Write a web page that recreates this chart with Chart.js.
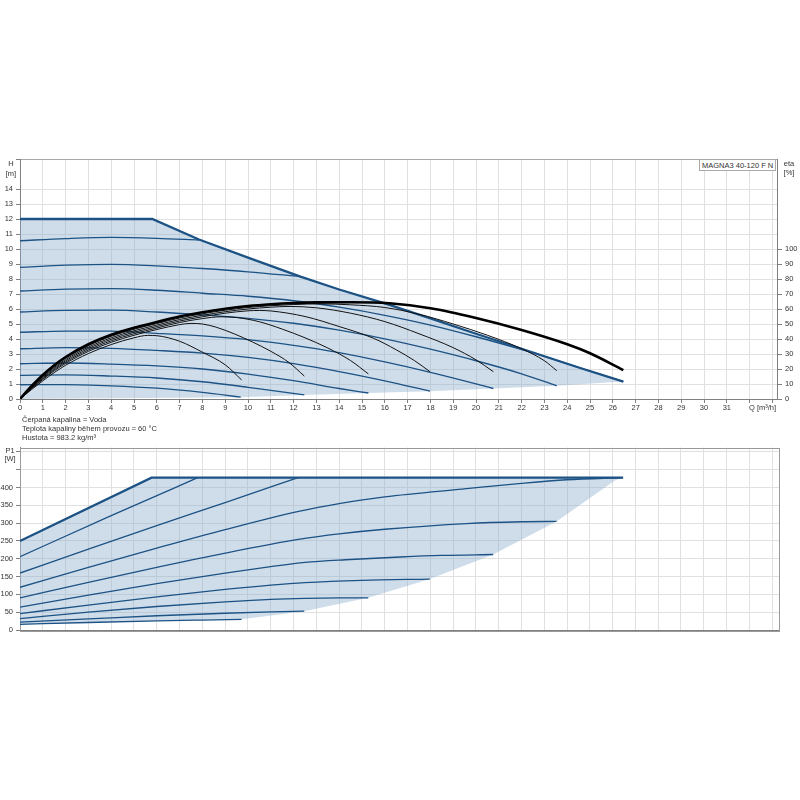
<!DOCTYPE html>
<html><head><meta charset="utf-8">
<script src="https://cdn.jsdelivr.net/npm/chart.js@4/dist/chart.umd.min.js"></script>
<style>
body{margin:0;background:#fff;}
#wrap{position:relative;width:800px;height:800px;font-family:"Liberation Sans",Arial,sans-serif;color:#333;}
.t{position:absolute;font-size:7.5px;line-height:9px;white-space:nowrap;}
.c{text-align:center;width:20px;}
canvas{position:absolute;left:0;}
#box{position:absolute;left:699px;top:159px;width:77px;height:12px;border:1px solid #aaa;background:#fff;font-size:7.5px;line-height:12px;padding-left:2px;box-sizing:border-box;white-space:nowrap;}
</style></head><body><div id="wrap">
<canvas id="c1" width="800" height="280" style="top:140px"></canvas>
<canvas id="c2" width="800" height="200" style="top:440px"></canvas>
<div class="t c" style="left:1px;top:159px">H</div>
<div class="t c" style="left:1px;top:169px">[m]</div>
<div class="t c" style="left:779px;top:159px">eta</div>
<div class="t c" style="left:779px;top:168px">[%]</div>
<div class="t" style="left:749px;top:403px">Q [m³/h]</div>
<div class="t" style="left:22px;top:414.5px">Čerpaná kapalina = Voda</div>
<div class="t" style="left:22px;top:424px">Teplota kapaliny během provozu = 60 °C</div>
<div class="t" style="left:22px;top:433px">Hustota = 983.2 kg/m³</div>
<div class="t c" style="left:0px;top:446px">P1</div>
<div class="t c" style="left:0px;top:454px">[W]</div>
<div id="box">MAGNA3 40-120 F N</div>
</div>
<script>
// ---------- DATA ----------
// H-Q curves [Q m3/h, H m]
const hMax = [[0,12],[5.8,12],[7.85,10.63],[10.09,9.38],[12.3,8.16],[14,7.3],[16,6.38],[18,5.38],[20,4.35],[22.4,3.15],[24.5,2.1],[26.46,1.16]];
const hCurve2 = [[0,10.55],[2,10.69],[4,10.77],[6,10.71],[7.85,10.6]];
const hCurve3 = [[0,8.78],[2,8.92],[4,8.98],[6,8.88],[8,8.7],[10,8.48],[12.3,8.16]];
const hCurve4 = [[0,7.2],[2,7.32],[4,7.36],[6,7.25],[8,7.05],[10,6.85],[12,6.55],[14,6.12],[16,5.58],[18,4.93],[20,4.15],[22.4,3.12],[24.5,2.1],[26.46,1.16]];
const hCurve5 = [[0,5.8],[2,5.91],[4,5.92],[6,5.8],[8,5.61],[10,5.38],[12,5.05],[14,4.59],[16,4.01],[18,3.32],[20,2.55],[22,1.68],[23.54,0.88]];
const hCurve6 = [[0,4.45],[2,4.53],[4,4.52],[6,4.38],[8,4.21],[10,3.96],[12,3.58],[14,3.09],[16,2.47],[18,1.78],[20,1.01],[20.76,0.7]];
const hCurve7 = [[0,3.35],[2,3.42],[4,3.38],[6,3.24],[8,3.06],[10,2.77],[12,2.36],[14,1.83],[16,1.21],[17.98,0.52]];
const hCurve8 = [[0,2.35],[2,2.4],[4,2.33],[6,2.21],[8,2.0],[10,1.66],[12,1.22],[14,0.7],[15.28,0.4]];
const hCurve9 = [[0,1.58],[2,1.61],[4,1.53],[6,1.4],[8,1.15],[10,0.78],[11,0.57],[12.47,0.27]];
const hCurve10 = [[0,0.95],[2,0.96],[4,0.88],[6,0.72],[8,0.44],[9,0.26],[9.68,0.12]];
const hLower = [[0,0],[9.68,0.12],[12.47,0.27],[15.28,0.4],[17.98,0.52],[20.76,0.7],[23.54,0.88],[26.46,1.16]];

// efficiency curves [Q, eta %]
const eta1 = [[0,0],[0.5,6.2],[1,12.1],[1.5,17.6],[2,22.5],[3,30.3],[4,36.3],[5,40.8],[5.6,42.4],[6,42.2],[7,38.5],[8,31.2],[9,22.8],[9.72,12.7]];
const eta2 = [[0,0],[0.5,6.75],[1,13],[1.5,18.75],[2,23.75],[3,31.75],[4,37.8],[5,42.5],[6,46.3],[7,49.6],[7.5,50.4],[8,50],[8.6,47.9],[9.4,43.4],[10.2,38],[11,31.8],[11.8,24.3],[12.47,15.3]];
const eta3 = [[0,0],[0.5,7.1],[1,13.6],[1.5,19.5],[2,24.6],[3,32.7],[4,38.8],[5,43.5],[6,47.3],[7,51],[8,53.6],[8.8,54.8],[9.5,54.3],[10.5,51.5],[11.5,46.6],[12.5,40.8],[13.5,34],[14.5,25.6],[15.28,16.7]];
const eta4 = [[0,0],[0.5,7.45],[1,14.2],[1.5,20.25],[2,25.45],[3,33.65],[4,39.8],[5,44.5],[6,48.3],[7,52],[8,54.8],[9,57.2],[10,58.8],[10.5,59],[11,58.7],[12.5,55],[14,48.3],[15.5,40.5],[16.5,32.8],[17.3,25.6],[17.98,18.2]];
const eta5 = [[0,0],[0.5,7.8],[1,14.8],[1.5,21],[2,26.3],[3,34.6],[4,40.8],[5,45.5],[6,49.3],[7,53],[8,55.8],[9,58.2],[10,60],[11,61.2],[11.8,61.7],[13,60.8],[14.5,57.2],[16,51.6],[17.5,43.5],[19,34.2],[20,26.1],[20.76,18.2]];
const eta6 = [[0,0],[0.5,8.15],[1,15.4],[1.5,21.75],[2,27.15],[3,35.55],[4,41.8],[5,46.5],[6,50.3],[7,54],[8,56.8],[9,59.2],[10,61],[11,62.2],[12,63],[13.2,63.4],[14.5,62.8],[16,61],[17.5,56.5],[19,50],[20.5,42.5],[22,33.5],[23,25.5],[23.54,18.9]];
const eta7 = [[0,0],[0.5,8.5],[1,16],[1.5,22.5],[2,28],[3,36.5],[4,42.8],[5,47.5],[6,51.3],[7,55],[8,57.8],[9,60.2],[10,62],[11,63.2],[12,64],[13,64.4],[14.5,64.5],[16.2,63.8],[18,60.5],[20,54],[22,46],[24,36.5],[25,30.5],[26.46,19.3]];

// P1 curves [Q, P1 W]
const pMax = [[0,250],[5.77,428],[26.46,428]];
const pCurve2 = [[0,206],[4,321],[7.8,428]];
const pCurve3 = [[0,160],[3,227],[6,293],[9,358],[12.2,428]];
const pCurve4 = [[0,120],[3,176],[6,230],[9,282],[12.28,334],[14,355],[16,374],[19.59,397],[22,412],[23.98,422],[26.46,428]];
const pCurve5 = [[0,90],[3,134],[6,176],[9,216],[12.28,255],[14,270],[16,283],[19.59,299],[22,304],[23.54,305]];
const pCurve6 = [[0,64],[3,98],[6,130],[9,160],[11,178],[12.5,190],[14.5,198],[16.67,205],[18.5,209.5],[20.76,212]];
const pCurve7 = [[0,46],[3,70],[6,93],[9,114],[11,126],[12.5,133],[15,139.5],[17.98,143]];
const pCurve8 = [[0,32],[3,50],[6,66],[9,79],[11,86],[12.5,89],[14,90.3],[15.28,90.5]];
const pCurve9 = [[0,22],[3,31],[6,40],[9,47],[11,51],[12.47,53]];
const pCurve10 = [[0,16],[3,21],[6,25.5],[8,28],[9.72,30]];
const pLower = [[0,16],[3,21],[6,25.5],[8,28],[9.72,30],[12.47,53],[15.28,90.5],[17.98,143],[20.76,212],[23.54,305],[26.1,420],[26.46,428]];

// axis settings
const qLabelMax = 31;
const hLabelMax = 14;
const etaLabelMax = 100;
const pLabelMax = 400;

// ---------- STYLE ----------
const BLUE = '#1c5284';
const FILL = 'rgba(140,175,208,0.42)';
const GRID = '#e0e0e0';
const AXIS = '#808080';

Chart.defaults.font.family = '"Liberation Sans", Arial, sans-serif';
Chart.defaults.font.size = 7.5;
Chart.defaults.color = '#333';
Chart.defaults.animation = false;

const toXY = a => a.map(p => ({x: p[0], y: p[1]}));
function ln(data, o) {
  return Object.assign({data: toXY(data), borderColor: BLUE, borderWidth: 1.3, pointRadius: 0,
    fill: false, cubicInterpolationMode: 'monotone', yAxisID: 'y', order: 5}, o || {});
}

const frame = {
  id: 'frame',
  beforeDatasetsDraw(chart, args, o) {
    if (!o || !o.color) return;
    const {ctx, chartArea: a} = chart;
    ctx.save();
    ctx.strokeStyle = o.color; ctx.lineWidth = 1;
    ctx.strokeRect(Math.round(a.left) + 0.5, Math.round(a.top) + 0.5, Math.round(a.right - a.left), Math.round(a.bottom - a.top));
    ctx.restore();
  }
};

const common = {
  responsive: false, maintainAspectRatio: false, events: [],
  plugins: {legend: {display: false}, tooltip: {enabled: false}},
  elements: {point: {radius: 0}, line: {tension: 0}}
};

// ---------- TOP CHART (H & eta) ----------
const ETA_THIN = {yAxisID: 'eta', borderColor: '#111', borderWidth: 1, order: 2};
const topDatasets = [
  {data: toXY(hMax), fill: 1, backgroundColor: FILL, borderWidth: 0, borderColor: 'transparent', pointRadius: 0, yAxisID: 'y', order: 100},
  {data: toXY(hLower), fill: false, borderWidth: 0, borderColor: 'transparent', pointRadius: 0, yAxisID: 'y', order: 99},
  ln(hCurve10), ln(hCurve9), ln(hCurve8), ln(hCurve7), ln(hCurve6), ln(hCurve5), ln(hCurve4), ln(hCurve3), ln(hCurve2),
  ln(hMax, {borderWidth: 2.3, cubicInterpolationMode: 'default', tension: 0, order: 4}),
  ln(eta1, ETA_THIN), ln(eta2, ETA_THIN), ln(eta3, ETA_THIN), ln(eta4, ETA_THIN), ln(eta5, ETA_THIN), ln(eta6, ETA_THIN),
  ln(eta7, {yAxisID: 'eta', borderColor: '#000', borderWidth: 2.6, order: 1})
];

new Chart(document.getElementById('c1'), {
  type: 'line',
  data: {datasets: topDatasets},
  options: Object.assign({}, common, {
    layout: {padding: {top: 19, left: 0, right: 0, bottom: 0}},
    scales: {
      x: {type: 'linear', min: 0, max: 33.2,
        ticks: {stepSize: 1, includeBounds: false, autoSkip: false, maxRotation: 0, padding: 0,
          callback: v => (v <= qLabelMax ? String(v) : '')},
        grid: {color: GRID, tickColor: AXIS, tickLength: 4},
        border: {color: AXIS},
        afterFit: s => { s.height = 21; }},
      y: {type: 'linear', position: 'left', min: 0, max: 16,
        ticks: {stepSize: 1, includeBounds: false, autoSkip: false, padding: 3,
          callback: v => (v <= hLabelMax ? String(v) : '')},
        afterBuildTicks: s => { s.ticks = s.ticks.filter(t => t.value <= hLabelMax || t.value === 16); },
        grid: {color: c => (c.tick && c.tick.value === 16 ? '#a8a8a8' : GRID), tickColor: AXIS, tickLength: 4},
        border: {color: AXIS},
        afterFit: s => { s.width = 20; }},
      eta: {type: 'linear', position: 'right', min: 0, max: 160,
        ticks: {stepSize: 10, includeBounds: false, autoSkip: false, padding: 3,
          callback: v => (v <= etaLabelMax ? String(v) : '')},
        afterBuildTicks: s => { s.ticks = s.ticks.filter(t => t.value <= etaLabelMax); },
        grid: {drawOnChartArea: false, tickColor: AXIS, tickLength: 5},
        border: {color: AXIS},
        afterFit: s => { s.width = 23; }}
    }
  })
});

// ---------- BOTTOM CHART (P1) ----------
const botDatasets = [
  {data: toXY(pMax), fill: 1, backgroundColor: FILL, borderWidth: 0, borderColor: 'transparent', pointRadius: 0, order: 100},
  {data: toXY(pLower), fill: false, borderWidth: 0, borderColor: 'transparent', pointRadius: 0, order: 99},
  ln(pCurve10), ln(pCurve9), ln(pCurve8), ln(pCurve7), ln(pCurve6), ln(pCurve5), ln(pCurve4), ln(pCurve3), ln(pCurve2),
  ln(pMax, {borderWidth: 2.3, cubicInterpolationMode: 'default', tension: 0, order: 4})
];

new Chart(document.getElementById('c2'), {
  type: 'line',
  data: {datasets: botDatasets},
  plugins: [frame],
  options: Object.assign({}, common, {
    layout: {padding: {top: 7, left: 0, right: 21, bottom: 10}},
    plugins: {legend: {display: false}, tooltip: {enabled: false}, frame: {color: '#9a9a9a'}},
    scales: {
      x: {type: 'linear', min: 0, max: 33.3,
        ticks: {display: false, stepSize: 1, includeBounds: false, autoSkip: false},
        grid: {color: GRID, drawTicks: false},
        border: {color: AXIS},
        afterFit: s => { s.height = 0; }},
      y: {type: 'linear', position: 'left', min: 0, max: 512.6,
        ticks: {stepSize: 50, includeBounds: false, autoSkip: false, padding: 3,
          callback: v => (v <= pLabelMax ? String(v) : '')},
        grid: {color: GRID, tickColor: AXIS, tickLength: 4},
        border: {color: AXIS},
        afterFit: s => { s.width = 20; }}
    }
  })
});
</script>
</body></html>
